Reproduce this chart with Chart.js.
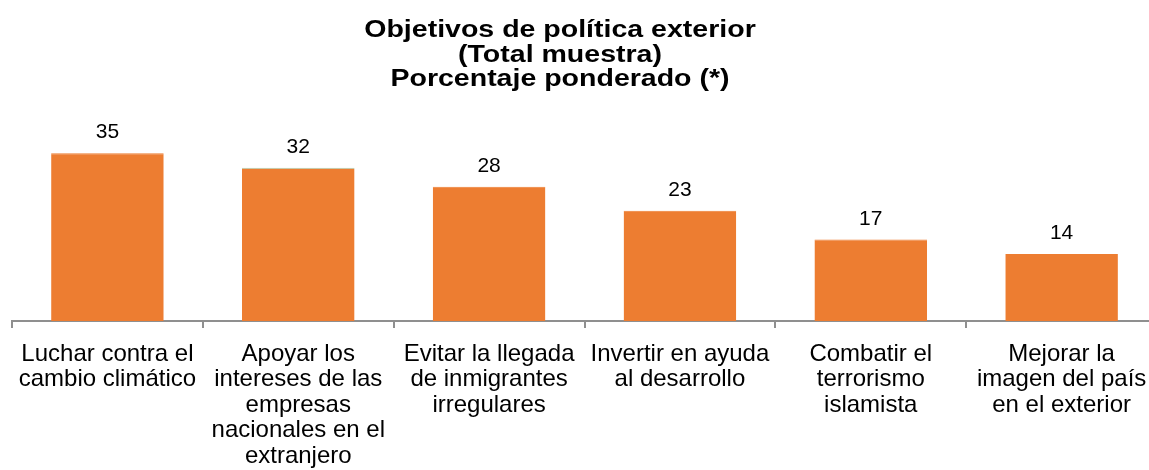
<!DOCTYPE html>
<html>
<head>
<meta charset="utf-8">
<script src="https://cdn.jsdelivr.net/npm/chart.js@4"></script>
<style>
  html, body { margin: 0; padding: 0; background: #fff; overflow: hidden; }
  #wrap { width: 1160px; height: 470px; }
</style>
</head>
<body>
<div id="wrap"><canvas id="objetivos"></canvas></div>
<script>
// categorías (ya partidas en líneas) y porcentajes
const categorias = [
  ["Luchar contra el", "cambio climático"],
  ["Apoyar los", "intereses de las", "empresas", "nacionales en el", "extranjero"],
  ["Evitar la llegada", "de inmigrantes", "irregulares"],
  ["Invertir en ayuda", "al desarrollo"],
  ["Combatir el", "terrorismo", "islamista"],
  ["Mejorar la", "imagen del país", "en el exterior"]
];
const porcentajes = [35, 32, 28, 23, 17, 14];
const titulo = ["Objetivos de política exterior", "(Total muestra)", "Porcentaje ponderado (*)"];

const naranja = "#ED7D31";
const fuente = "'Liberation Sans', Arial, sans-serif";

// título en tres líneas, algo ensanchado
const tituloPlugin = {
  id: "tituloLineas",
  afterDraw(chart) {
    const ctx = chart.ctx;
    ctx.save();
    ctx.font = "bold 23px " + fuente;
    ctx.fillStyle = "#000";
    ctx.textAlign = "center";
    ctx.textBaseline = "alphabetic";
    ctx.translate(560, 0);
    ctx.scale(1.24, 1);
    titulo.forEach((t, i) => ctx.fillText(t, 0, 37 + i * 24.5));
    ctx.restore();
  }
};

// valor encima de cada barra
const valoresPlugin = {
  id: "valores",
  afterDatasetsDraw(chart) {
    const ctx = chart.ctx;
    const meta = chart.getDatasetMeta(0);
    ctx.save();
    ctx.font = "21px " + fuente;
    ctx.fillStyle = "#000";
    ctx.textAlign = "center";
    ctx.textBaseline = "alphabetic";
    meta.data.forEach((bar, i) => {
      ctx.fillText(porcentajes[i], bar.x, bar.y - 15);
    });
    ctx.restore();
  }
};

new Chart("objetivos", {
  type: "bar",
  data: {
    labels: categorias,
    datasets: [{
      data: porcentajes,
      backgroundColor: naranja,
      borderColor: [naranja, "#a8dcc4", naranja, naranja, naranja, naranja],
      borderWidth: { top: 1, left: 0, right: 0, bottom: 0 },
      borderSkipped: false,
      barPercentage: 0.59,
      categoryPercentage: 1
    }]
  },
  options: {
    responsive: true,
    maintainAspectRatio: false,
    animation: false,
    layout: { padding: { left: 12, right: 2, top: 91, bottom: -12.5 } },
    plugins: {
      legend: { display: false },
      title: { display: false },
      tooltip: { enabled: false }
    },
    scales: {
      x: {
        grid: {
          drawOnChartArea: false,
          drawTicks: true,
          tickLength: 7,
          color: "#8f8f8f",
          lineWidth: 2
        },
        border: { display: true, color: "#8f8f8f", width: 2 },
        ticks: {
          color: "#000",
          maxRotation: 0,
          autoSkip: false,
          padding: 13.5,
          font: { family: fuente, size: 24, lineHeight: "25.5px" }
        }
      },
      y: {
        display: false,
        min: 0,
        max: 48
      }
    }
  },
  plugins: [tituloPlugin, valoresPlugin]
});
</script>
</body>
</html>
